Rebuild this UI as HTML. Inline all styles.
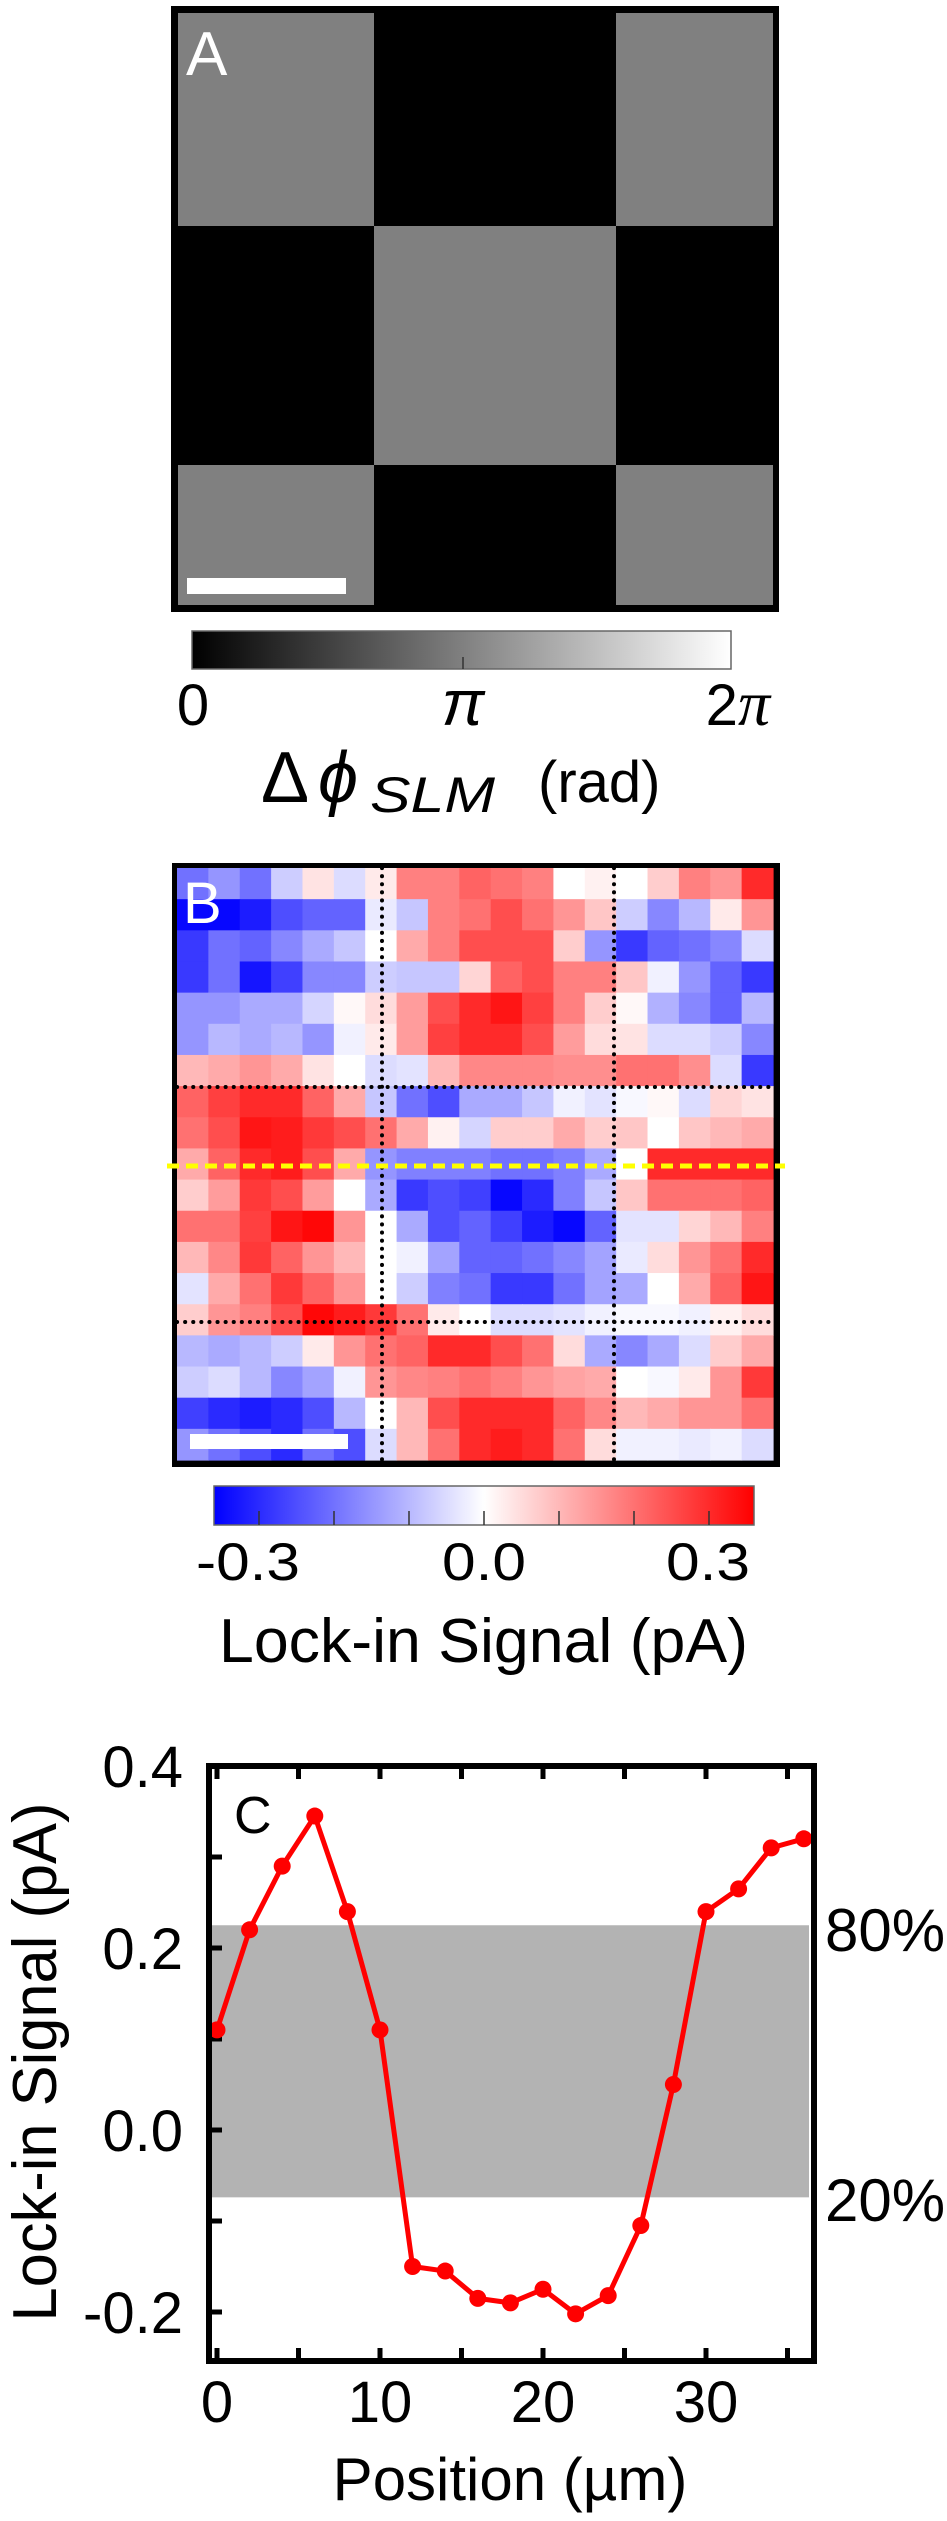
<!DOCTYPE html>
<html><head><meta charset="utf-8">
<style>
html,body{margin:0;padding:0;background:#fff;}
svg{display:block;}
text{font-family:"Liberation Sans",sans-serif;}
</style></head>
<body>
<svg id="fig" width="947" height="2521" viewBox="0 0 947 2521" xmlns="http://www.w3.org/2000/svg">
<defs>
<linearGradient id="gA" x1="0" x2="1" y1="0" y2="0"><stop offset="0" stop-color="#000"/><stop offset="1" stop-color="#fff"/></linearGradient>
<linearGradient id="gB" x1="0" x2="1" y1="0" y2="0"><stop offset="0" stop-color="#0000ff"/><stop offset="0.5" stop-color="#ffffff"/><stop offset="1" stop-color="#ff0000"/></linearGradient>
</defs>
<!-- Panel A -->
<g>
<rect x="171" y="6" width="608" height="606" fill="#000"/>
<rect x="178" y="13" width="196" height="213" fill="#808080"/>
<rect x="616" y="13" width="157" height="213" fill="#808080"/>
<rect x="374" y="226" width="242" height="239" fill="#808080"/>
<rect x="178" y="465" width="196" height="140" fill="#808080"/>
<rect x="616" y="465" width="157" height="140" fill="#808080"/>
<rect x="187" y="578" width="159" height="16" fill="#fff"/>
<text x="186" y="75" font-size="62" fill="#fff">A</text>
<rect x="192" y="631" width="539" height="38" fill="url(#gA)" stroke="#666" stroke-width="1.5"/>
<line x1="463" y1="669" x2="463" y2="657" stroke="#333" stroke-width="1.5"/>
<text x="193" y="725" font-size="58" text-anchor="middle">0</text>
<text x="463" y="725" font-size="64" text-anchor="middle" font-family="Liberation Serif, serif" font-style="italic">π</text>
<text x="770" y="725" font-size="58" text-anchor="end">2<tspan font-family="Liberation Serif, serif" font-style="italic" font-size="64">π</tspan></text>
<g>
<text x="261" y="802" font-size="72" font-family="Liberation Serif, serif">Δ</text>
<text x="318" y="802" font-size="72" font-family="Liberation Serif, serif" font-style="italic">ϕ</text>
<text x="370" y="812" font-size="50" font-family="Liberation Serif, serif" font-style="italic" textLength="125" lengthAdjust="spacingAndGlyphs">SLM</text>
<text x="538" y="802" font-size="58">(rad)</text>
</g>
</g>
<!-- Panel B -->
<g>
<rect x="172" y="863" width="608" height="604" fill="#000"/>
<g id="cells"></g>
<g id="overlay">
<line x1="382" y1="868" x2="382" y2="1460" stroke="#000" stroke-width="4" stroke-dasharray="0.1 8" stroke-linecap="round"/>
<line x1="614" y1="868" x2="614" y2="1460" stroke="#000" stroke-width="4" stroke-dasharray="0.1 8" stroke-linecap="round"/>
<line x1="177" y1="1087" x2="773" y2="1087" stroke="#000" stroke-width="4" stroke-dasharray="0.1 8" stroke-linecap="round"/>
<line x1="177" y1="1322" x2="773" y2="1322" stroke="#000" stroke-width="4" stroke-dasharray="0.1 8" stroke-linecap="round"/>
<line x1="167" y1="1166" x2="785" y2="1166" stroke="#ffff00" stroke-width="5" stroke-dasharray="12 7"/>
</g>
<rect x="190" y="1434" width="158" height="15" fill="#fff"/>
<text x="183" y="923" font-size="58" fill="#fff">B</text>
<rect x="214" y="1486" width="540" height="39" fill="url(#gB)" stroke="#666" stroke-width="1.5"/>
<g id="cbticks"></g>
<text x="248" y="1580" font-size="53" text-anchor="middle" textLength="104" lengthAdjust="spacingAndGlyphs">-0.3</text>
<text x="484" y="1580" font-size="53" text-anchor="middle" textLength="84" lengthAdjust="spacingAndGlyphs">0.0</text>
<text x="708" y="1580" font-size="53" text-anchor="middle" textLength="84" lengthAdjust="spacingAndGlyphs">0.3</text>
<text x="219" y="1662" font-size="62" textLength="529" lengthAdjust="spacingAndGlyphs">Lock-in Signal (pA)</text>
</g>
<!-- Panel C -->
<g>
<rect id="band" fill="#b3b3b3"/>
<g id="cticks"></g>
<polyline id="profile" fill="none" stroke="#ff0000" stroke-width="5" stroke-linejoin="round"/>
<g id="dots"></g>
<rect x="209" y="1766" width="605" height="595" fill="none" stroke="#000" stroke-width="6"/>
<text x="234" y="1833" font-size="52">C</text>
<g id="clabels"></g>
<text x="825" y="1951" font-size="60">80%</text>
<text x="825" y="2221" font-size="60">20%</text>
<text transform="translate(56,2062) rotate(-90)" font-size="62" text-anchor="middle" textLength="519" lengthAdjust="spacingAndGlyphs">Lock-in Signal (pA)</text>
<text x="510" y="2500" font-size="60" text-anchor="middle">Position (µm)</text>
</g>
</svg>
<script>
const heatRows = [
[-0.2,-0.15,-0.2,-0.07,0.04,-0.05,0.03,0.18,0.18,0.22,0.2,0.18,0.0,0.02,0.0,0.07,0.18,0.15,0.3],
[-0.35,-0.35,-0.32,-0.25,-0.22,-0.22,-0.03,-0.08,0.18,0.2,0.25,0.2,0.15,0.08,-0.07,-0.17,-0.1,0.03,0.15],
[-0.28,-0.2,-0.22,-0.17,-0.12,-0.08,0.0,0.12,0.18,0.25,0.25,0.25,0.07,-0.15,-0.28,-0.22,-0.2,-0.17,-0.05],
[-0.28,-0.2,-0.33,-0.27,-0.17,-0.17,-0.07,-0.08,-0.08,0.06,0.22,0.25,0.18,0.18,0.08,-0.02,-0.15,-0.22,-0.28],
[-0.15,-0.15,-0.12,-0.12,-0.06,0.01,0.05,0.14,0.25,0.3,0.33,0.27,0.18,0.07,0.01,-0.11,-0.17,-0.22,-0.1],
[-0.15,-0.1,-0.12,-0.1,-0.15,-0.02,0.03,0.14,0.27,0.3,0.3,0.25,0.14,0.05,0.04,-0.05,-0.05,-0.07,-0.17],
[0.1,0.12,0.15,0.12,0.04,0.0,-0.05,-0.04,0.1,0.17,0.17,0.17,0.16,0.16,0.2,0.2,0.16,-0.05,-0.28],
[0.22,0.27,0.3,0.3,0.22,0.12,-0.08,-0.2,-0.25,-0.12,-0.12,-0.08,-0.02,-0.04,-0.01,0.01,-0.05,0.06,0.04],
[0.2,0.25,0.33,0.32,0.28,0.25,0.2,0.12,0.02,-0.06,0.07,0.07,0.12,0.07,0.08,0.0,0.08,0.1,0.12],
[0.12,0.22,0.3,0.32,0.25,0.12,-0.15,-0.18,-0.18,-0.18,-0.2,-0.2,-0.18,-0.12,0.0,0.3,0.3,0.3,0.3],
[0.07,0.14,0.28,0.25,0.14,0.0,-0.12,-0.28,-0.25,-0.27,-0.35,-0.3,-0.18,-0.08,0.08,0.2,0.2,0.2,0.22],
[0.2,0.2,0.27,0.33,0.35,0.15,0.0,-0.12,-0.25,-0.22,-0.27,-0.32,-0.35,-0.22,-0.04,-0.04,0.06,0.1,0.18],
[0.1,0.17,0.28,0.22,0.15,0.1,0.0,-0.02,-0.13,-0.22,-0.22,-0.2,-0.17,-0.13,-0.03,0.05,0.15,0.2,0.3],
[-0.04,0.12,0.2,0.28,0.22,0.15,0.0,-0.07,-0.18,-0.2,-0.28,-0.28,-0.2,-0.13,-0.12,0.0,0.12,0.22,0.33],
[0.07,0.15,0.18,0.25,0.35,0.32,0.28,0.2,0.03,0.0,-0.05,-0.05,-0.04,-0.02,-0.01,-0.01,-0.02,0.02,0.05],
[-0.1,-0.12,-0.1,-0.07,0.03,0.15,0.2,0.22,0.3,0.3,0.25,0.2,0.05,-0.12,-0.17,-0.12,-0.05,0.07,0.12],
[-0.07,-0.05,-0.1,-0.17,-0.13,-0.02,0.15,0.17,0.18,0.2,0.18,0.15,0.13,0.12,0.0,-0.01,0.03,0.15,0.28],
[-0.27,-0.3,-0.32,-0.3,-0.25,-0.1,0.0,0.1,0.25,0.3,0.3,0.3,0.22,0.17,0.1,0.12,0.15,0.15,0.2],
[-0.15,-0.2,-0.25,-0.3,-0.2,-0.25,-0.05,0.1,0.2,0.3,0.32,0.3,0.2,0.05,-0.02,-0.02,-0.03,-0.02,-0.05]
];
const colorbarTicks = [-0.3,-0.2,-0.1,0.0,0.1,0.2,0.3];
const positions = [0,2,4,6,8,10,12,14,16,18,20,22,24,26,28,30,32,34,36];
const signal = [0.11,0.22,0.29,0.345,0.24,0.11,-0.15,-0.155,-0.185,-0.19,-0.175,-0.202,-0.182,-0.105,0.05,0.24,0.265,0.31,0.32];
const bandLimits = [-0.074,0.225];
const yTickLabels = [0.4,0.2,0.0,-0.2];
const yMinorTicks = [-0.2,-0.1,0.0,0.1,0.2,0.3,0.4];
const xTickLabels = [0,10,20,30];
const xMinorTicks = [0,5,10,15,20,25,30,35];

const NS='http://www.w3.org/2000/svg';
function mk(tag,attrs,parent){const e=document.createElementNS(NS,tag);for(const k in attrs)e.setAttribute(k,attrs[k]);parent.appendChild(e);return e;}
const hx0=177,hx1=773,hy0=868,hy1=1460,vmax=0.36;
const nC=heatRows[0].length,nR=heatRows.length;
const cw=(hx1-hx0)/nC,ch=(hy1-hy0)/nR;
function cmap(v){let t=Math.max(-1,Math.min(1,v/vmax));
 if(t<0){const g=Math.round(255*(1+t));return `rgb(${g},${g},255)`;}
 const g=Math.round(255*(1-t));return `rgb(255,${g},${g})`;}
const cells=document.getElementById('cells');
heatRows.forEach((row,r)=>row.forEach((v,c)=>{
 const el=mk('rect',{x:(hx0+c*cw).toFixed(2),y:(hy0+r*ch).toFixed(2),width:(cw+0.6).toFixed(2),height:(ch+0.6).toFixed(2),fill:cmap(v)},cells);
 
 
}));
const cbx=v=>484+v*(270/0.36);
const cbt=document.getElementById('cbticks');
colorbarTicks.forEach(v=>{
 const el=mk('line',{x1:cbx(v),x2:cbx(v),y1:1525,y2:1511,stroke:'#333','stroke-width':1.5},cbt);
 
 
});
const X=v=>217+v*16.3;
const Y=v=>2130-v*910;
const band=document.getElementById('band');
band.setAttribute('x',209);band.setAttribute('width',600);
band.setAttribute('y',Y(bandLimits[1]));band.setAttribute('height',Y(bandLimits[0])-Y(bandLimits[1]));
const ct=document.getElementById('cticks');
yMinorTicks.forEach(v=>{
 const el=mk('line',{x1:209,x2:222,y1:Y(v),y2:Y(v),stroke:'#000','stroke-width':5},ct);
 
 
});
xMinorTicks.forEach(v=>{
 const b=mk('line',{x1:X(v),x2:X(v),y1:2361,y2:2348,stroke:'#000','stroke-width':5},ct);
 
 
 const t=mk('line',{x1:X(v),x2:X(v),y1:1766,y2:1779,stroke:'#000','stroke-width':5},ct);
 
 
});
const cl=document.getElementById('clabels');
yTickLabels.forEach(v=>{
 const el=mk('text',{x:183,y:Y(v)+21,'font-size':58,'text-anchor':'end'},cl);
 el.textContent=v.toFixed(1);
 
 
});
xTickLabels.forEach(v=>{
 const el=mk('text',{x:X(v),y:2422,'font-size':58,'text-anchor':'middle'},cl);
 el.textContent=String(v);
 
 
});
document.getElementById('profile').setAttribute('points',positions.map((p,i)=>X(p)+','+Y(signal[i])).join(' '));
const dots=document.getElementById('dots');
positions.forEach((p,i)=>{
 const el=mk('circle',{cx:X(p),cy:Y(signal[i]),r:8.5,fill:'#ff0000'},dots);
 
 
});
</script>
</body></html>
